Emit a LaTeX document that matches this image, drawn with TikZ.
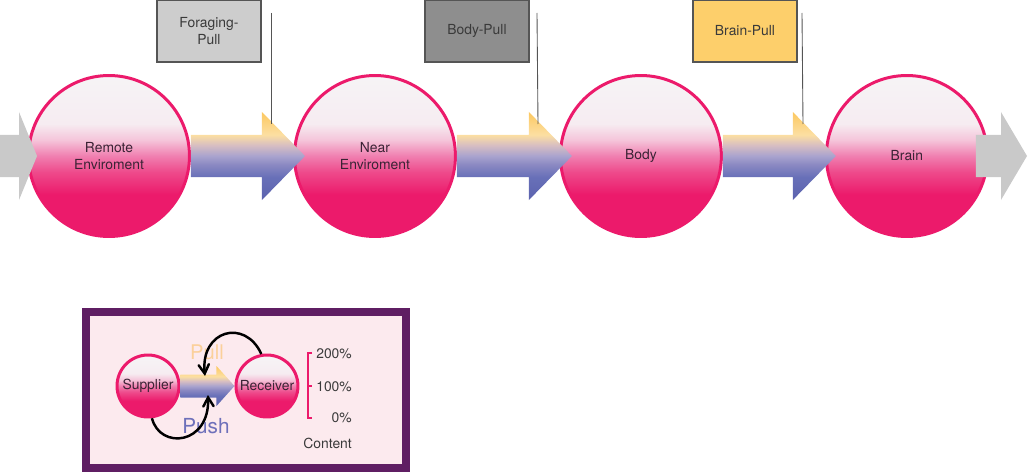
\documentclass[tikz,border=0pt]{standalone}
\usepackage{fontspec}
\setmainfont{TeX Gyre Heros}
\usepackage{tikz}
\usetikzlibrary{arrows, calc, positioning}

\definecolor{ballred}{HTML}{EC1A6B}
\definecolor{ballmid}{HTML}{EE4A8B}
\definecolor{ballpink}{HTML}{F07FB0}
\definecolor{balllight}{HTML}{F5C5DA}
\definecolor{ballpale}{HTML}{F6ECF1}
\definecolor{balltop}{HTML}{F6F4F6}
\definecolor{flowtop}{HTML}{FCC860}
\definecolor{flowlight}{HTML}{FCDFA2}
\definecolor{flowrose}{HTML}{D6BDC2}
\definecolor{flowmid}{HTML}{A9A3CE}
\definecolor{flowlow}{HTML}{8A88C2}
\definecolor{flowdeep}{HTML}{6870B8}
\definecolor{flowbot}{HTML}{5B62AE}
\definecolor{greyarrow}{HTML}{C9C9C9}
\definecolor{framepurple}{HTML}{5F1E63}
\definecolor{framefill}{HTML}{FCEAEE}
\definecolor{inktext}{HTML}{3B2335}
\definecolor{labeltext}{HTML}{3A3A3A}
\definecolor{boxline}{HTML}{555555}
\definecolor{forgrey}{HTML}{CDCDCD}
\definecolor{bodygrey}{HTML}{8E8E8E}
\definecolor{brainyellow}{HTML}{FDCF6B}
\definecolor{pullorange}{HTML}{FBD09A}
\definecolor{pushblue}{HTML}{6E70BA}

\pgfdeclareverticalshading{ballshading}{100bp}{color(0bp)=(ballred); color(38bp)=(ballred); color(45bp)=(ballmid); color(50bp)=(ballpink); color(55bp)=(balllight); color(60bp)=(ballpale); color(75bp)=(balltop); color(100bp)=(balltop)}
\pgfdeclareverticalshading{flowshading}{100bp}{color(0bp)=(flowbot); color(25bp)=(flowbot); color(38bp)=(flowdeep); color(45bp)=(flowlow); color(50bp)=(flowmid); color(56bp)=(flowrose); color(62bp)=(flowlight); color(75bp)=(flowtop); color(100bp)=(flowtop)}

\tikzstyle{ball} = [circle, minimum size=3.22cm, inner sep=0pt, line width=0.06cm, draw=ballred, shade, shading=ballshading, text=inktext, align=center, font=\fontsize{7.9}{9.6}\selectfont]
\tikzstyle{smallball} = [ball, minimum size=1.24cm]
\tikzstyle{pullbox} = [rectangle, minimum width=2.08cm, minimum height=1.24cm, draw=boxline, line width=0.6pt, text=labeltext, align=center, font=\fontsize{7.9}{9.6}\selectfont]
\tikzstyle{flow} = [shade, shading=flowshading]
\tikzstyle{greyflow} = [fill=greyarrow]
\tikzstyle{callout} = [draw=boxline, line width=0.5pt]
\tikzstyle{pushpull} = [line width=1.4pt, ->, >=angle 60]
\tikzstyle{scalebar} = [draw=ballred, line width=1.7pt]
\tikzstyle{legendtext} = [text=labeltext, anchor=east, font=\fontsize{7.9}{9.6}\selectfont]

% from, tip, body half, head half, head length, style
\newcommand{\flowarrow}[6]{%
  \path[#6] ($(#1)+(0,-#3)$) -- ($(#2)+(-#5,-#3)$) -- ($(#2)+(-#5,-#4)$) -- (#2)
    -- ($(#2)+(-#5,#4)$) -- ($(#2)+(-#5,#3)$) -- ($(#1)+(0,#3)$) -- cycle;}

\begin{document}
\begin{tikzpicture}[x=0.02cm, y=-0.02cm, node distance=2.04cm]
\useasboundingbox (0,0) rectangle (1028,473);

% Kreise
\node (remote) [ball] at (109,156) {Remote\\Enviroment};
\node (near) [ball, right=of remote] {Near\\Enviroment};
\node (body) [ball, right=of near] {Body};
\node (brain) [ball, right=of body] {Brain};

% Pull-Kaesten
\node (foraging) [pullbox, fill=forgrey] at (209,31) {Foraging-\\Pull};
\node (bodypull) [pullbox, fill=bodygrey, right=3.26cm of foraging] {Body-Pull};
\node (brainpull) [pullbox, fill=brainyellow, right=3.26cm of bodypull] {Brain-Pull};

% Pfeile
\coordinate (in start) at (0,156);
\coordinate (in tip) at ([xshift=0.2cm]remote.west);
\coordinate (out start) at ([xshift=-0.26cm]brain.east);
\coordinate (out tip) at (1027,156);
\coordinate (near tip) at ([xshift=0.24cm]near.west);
\coordinate (body tip) at ([xshift=0.26cm]body.west);
\coordinate (brain tip) at ([xshift=0.22cm]brain.west);

\flowarrow{in start}{in tip}{21}{44}{18}{greyflow}
\flowarrow{remote.east}{near tip}{21}{44}{43}{flow}
\flowarrow{near.east}{body tip}{21}{44}{43}{flow}
\flowarrow{body.east}{brain tip}{21}{44}{43}{flow}
\flowarrow{out start}{out tip}{21}{44}{26}{greyflow}

% Linien
\coordinate (foraging top) at (271,13);
\coordinate (foraging end) at (271,124);
\coordinate (bodypull top) at (537,13);
\coordinate (bodypull end) at (538,124);
\coordinate (brainpull top) at (802,13);
\coordinate (brainpull end) at (803,124);
\draw [callout] (foraging top) -- (foraging end);
\draw [callout] (bodypull top) -- (bodypull end);
\draw [callout] (brainpull top) -- (brainpull end);

% Legende
\node (legend) [rectangle, draw=framepurple, line width=0.16cm, fill=framefill, minimum width=6.4cm, minimum height=3.12cm, inner sep=0pt] at (246,390) {};

\node (supplier) [smallball] at (148,386) {Supplier};
\node (receiver) [smallball, right=1.08cm of supplier] {Receiver};
\flowarrow{supplier.east}{receiver.west}{11.5}{20}{18}{flow}

\node (pull) [text=pullorange, font=\fontsize{11.5}{13}\selectfont] at (207,352) {Pull};
\node (push) [text=pushblue, font=\fontsize{11.8}{13}\selectfont] at (206,426) {Push};

\coordinate (pull tip) at (205,376);
\coordinate (push tip) at (208,395);
\draw [pushpull] (receiver.100) .. controls (245,318) and (200,330) .. (pull tip);
\draw [pushpull] (supplier.-83) .. controls (160,450) and (210,445) .. (push tip);

\coordinate (scale top) at (308,353);
\coordinate (scale mid) at (308,386);
\coordinate (scale bot) at (308,418);
\draw [scalebar] ([xshift=0.08cm]scale top) -- (scale top) -- (scale bot) -- ([xshift=0.08cm]scale bot);
\draw [scalebar] (scale mid) -- ([xshift=0.08cm]scale mid);

\node (p200) [legendtext] at (358,354) {200\%};
\node (p100) [legendtext] at (358,387) {100\%};
\node (p0) [legendtext] at (358,418) {0\%};
\node (content) [legendtext] at (358,443) {Content};

\end{tikzpicture}
\end{document}
